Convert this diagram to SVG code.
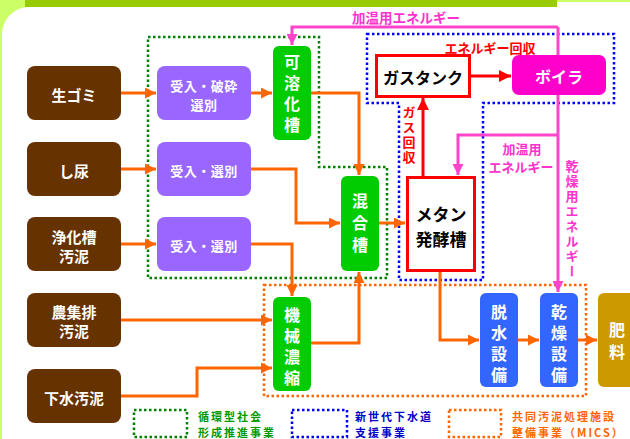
<svg xmlns="http://www.w3.org/2000/svg" width="630" height="439" viewBox="0 0 630 439">
<style>
text{font-family:"Noto Sans CJK JP","Noto Sans",sans-serif;font-weight:bold;text-anchor:middle;dominant-baseline:central}
.v{writing-mode:vertical-rl}
.w{fill:#fff}
.lg{text-anchor:start;font-size:11px;letter-spacing:2px}
.brown{fill:#663300}
.purple{fill:#9966ff}
.green{fill:#00cc00}
.blue{fill:#3366ff}
.gold{fill:#cc9900}
.o{fill:none;stroke:#ff6600;stroke-width:3}
.r{fill:none;stroke:#ff0000;stroke-width:3}
.m{fill:none;stroke:#ff44cc;stroke-width:3}
.dg{fill:none;stroke:#008000;stroke-width:2.5;stroke-dasharray:2.5 2.5}
.db{fill:none;stroke:#0000ff;stroke-width:2.5;stroke-dasharray:2.5 2.5}
.do{fill:none;stroke:#ff6600;stroke-width:2.5;stroke-dasharray:2.5 2.5}
</style>
<defs>
<marker id="ao" viewBox="0 0 10 10" refX="10" refY="5" markerWidth="11" markerHeight="11" orient="auto" markerUnits="userSpaceOnUse"><path d="M0,0 L10,5 L0,10 z" fill="#ff6600"/></marker>
<marker id="ar" viewBox="0 0 10 10" refX="10" refY="5" markerWidth="12" markerHeight="12" orient="auto" markerUnits="userSpaceOnUse"><path d="M0,0 L10,5 L0,10 z" fill="#ff0000"/></marker>
<marker id="am" viewBox="0 0 10 10" refX="10" refY="5" markerWidth="11" markerHeight="11" orient="auto" markerUnits="userSpaceOnUse"><path d="M0,0 L10,5 L0,10 z" fill="#ff44cc"/></marker>
</defs>
<g id="background">
<rect x="0" y="0" width="630" height="439" fill="#ccff66"/>
<path d="M2,439 V34 A27,27 0 0 1 29,7 H557 V2 H630 V439 Z" fill="#fff"/>
<rect x="25" y="0" width="532" height="7" fill="#99cc00"/>
</g>
<g id="regions">
<path class="dg" d="M148,37 H319 V167 H387 V278 H148 Z"/>
<path class="db" d="M367,34 H614 V103 H483 V280 H399 V103 H367 Z"/>
<rect class="do" x="264" y="285" width="322" height="111"/>
</g>
<g id="connectors">
<path class="o" d="M121,93 H156" marker-end="url(#ao)"/>
<path class="o" d="M251,93 H272" marker-end="url(#ao)"/>
<path class="o" d="M311,93 H359 V175" marker-end="url(#ao)"/>
<path class="o" d="M121,169 H156" marker-end="url(#ao)"/>
<path class="o" d="M251,169 H296 V223 H340" marker-end="url(#ao)"/>
<path class="o" d="M121,244 H156" marker-end="url(#ao)"/>
<path class="o" d="M251,244 H292 V296" marker-end="url(#ao)"/>
<path class="o" d="M121,320 H272" marker-end="url(#ao)"/>
<path class="o" d="M121,396 H197 V368 H272" marker-end="url(#ao)"/>
<path class="o" d="M311,343 H359 V272" marker-end="url(#ao)"/>
<path class="o" d="M379,223 H405" marker-end="url(#ao)"/>
<path class="o" d="M440,272 V340 H479" marker-end="url(#ao)"/>
<path class="o" d="M518,340 H539" marker-end="url(#ao)"/>
<path class="o" d="M578,340 H597" marker-end="url(#ao)"/>
<path class="r" d="M423,176 V98" marker-end="url(#ar)"/>
<path class="r" d="M471,76 H511" marker-end="url(#ar)"/>
<path class="m" d="M558,27 H292 V45" marker-end="url(#am)"/>
<path class="m" d="M558,27 V292" marker-end="url(#am)"/>
<path class="m" d="M558,135 H458 V175" marker-end="url(#am)"/>
</g>
<g id="labels">
<text x="406" y="17" font-size="13.5" fill="#ff33cc">加温用エネルギー</text>
<text x="490" y="47" font-size="13" fill="#ff0000">エネルギー回収</text>
<text class="v" x="409" y="136" font-size="13" letter-spacing="2" fill="#ff0000">ガス回収</text>
<text font-size="13" fill="#ff33cc"><tspan x="522" y="148">加温用</tspan><tspan x="521" y="166">エネルギー</tspan></text>
<text class="v" x="572" y="220" font-size="13" letter-spacing="2" fill="#ff33cc">乾燥用エネルギー</text>
</g>
<g id="n-namagomi"><rect class="brown" x="27" y="66" width="94" height="54" rx="8"/><text class="w" x="74" y="94" font-size="15">生ゴミ</text></g>
<g id="n-shinyo"><rect class="brown" x="27" y="142" width="94" height="54" rx="8"/><text class="w" x="74" y="170" font-size="15">し尿</text></g>
<g id="n-jokaso"><rect class="brown" x="27" y="217" width="94" height="54" rx="8"/><text class="w" font-size="15"><tspan x="74" y="236">浄化槽</tspan><tspan x="74" y="255">汚泥</tspan></text></g>
<g id="n-noshuhai"><rect class="brown" x="27" y="293" width="94" height="54" rx="8"/><text class="w" font-size="15"><tspan x="74" y="311">農集排</tspan><tspan x="74" y="330">汚泥</tspan></text></g>
<g id="n-gesui"><rect class="brown" x="27" y="369" width="94" height="54" rx="8"/><text class="w" x="74" y="397" font-size="15">下水汚泥</text></g>
<g id="n-ukeire1"><rect class="purple" x="157" y="66" width="94" height="54" rx="8"/><text class="w" font-size="13" letter-spacing="0.5"><tspan x="204" y="85">受入・破砕</tspan><tspan x="204" y="104">選別</tspan></text></g>
<g id="n-ukeire2"><rect class="purple" x="157" y="142" width="94" height="54" rx="8"/><text class="w" x="204" y="170" font-size="13" letter-spacing="0.5">受入・選別</text></g>
<g id="n-ukeire3"><rect class="purple" x="157" y="217" width="94" height="54" rx="8"/><text class="w" x="204" y="245" font-size="13" letter-spacing="0.5">受入・選別</text></g>
<g id="n-kayoka"><rect class="green" x="273" y="46" width="38" height="94" rx="6"/>
<text class="w v" x="292" y="96" font-size="16" letter-spacing="5">可溶化槽</text></g>
<g id="n-kongo"><rect class="green" x="341" y="176" width="38" height="95" rx="6"/>
<text class="w v" x="360" y="226" font-size="16" letter-spacing="6">混合槽</text></g>
<g id="n-kikai"><rect class="green" x="273" y="297" width="38" height="94" rx="6"/>
<text class="w v" x="292" y="349" font-size="16" letter-spacing="5">機械濃縮</text></g>
<g id="n-gastank"><rect x="376.5" y="55.5" width="93" height="41" fill="#fff" stroke="#ff0000" stroke-width="3"/><text x="423" y="77" font-size="16" fill="#000">ガスタンク</text></g>
<g id="n-boiler"><rect x="512" y="55" width="94" height="40" rx="7" fill="#ff00cc"/><text class="w" x="559" y="76" font-size="16">ボイラ</text></g>
<g id="n-methane"><rect x="407.5" y="177.5" width="67" height="93" fill="#fff" stroke="#ff0000" stroke-width="3"/><text font-size="17" fill="#000"><tspan x="441" y="213">メタン</tspan><tspan x="441" y="238">発酵槽</tspan></text></g>
<g id="n-dassui"><rect class="blue" x="480" y="293" width="38" height="94" rx="6"/>
<text class="w v" x="499" y="346" font-size="16" letter-spacing="5">脱水設備</text></g>
<g id="n-kanso"><rect class="blue" x="540" y="293" width="38" height="94" rx="6"/>
<text class="w v" x="559" y="346" font-size="16" letter-spacing="5">乾燥設備</text></g>
<g id="n-hiryo"><rect class="gold" x="598" y="293" width="50" height="94" rx="6"/>
<text class="w v" x="617" y="344" font-size="16" letter-spacing="6">肥料</text></g>
<g id="legend">
<rect class="dg" x="134" y="410" width="53" height="27"/>
<text class="lg" fill="#009900"><tspan x="198" y="415.5">循環型社会</tspan><tspan x="198" y="431.5">形成推進事業</tspan></text>
<rect class="db" x="292" y="410" width="55" height="27"/>
<text class="lg" fill="#0000cc"><tspan x="355" y="415.5">新世代下水道</tspan><tspan x="355" y="431.5">支援事業</tspan></text>
<rect class="do" x="449" y="410" width="52" height="27"/>
<text class="lg" fill="#ff6600"><tspan x="512" y="415.5">共同汚泥処理施設</tspan><tspan x="512" y="431.5">整備事業（MICS）</tspan></text>
</g>
</svg>
